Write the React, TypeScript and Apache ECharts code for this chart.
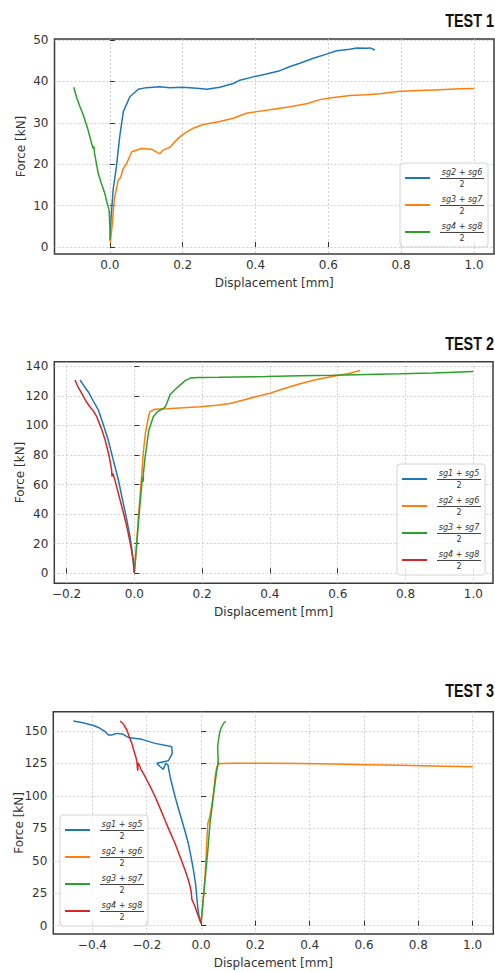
import React, { useEffect, useRef } from 'react';
import * as echarts from 'echarts';

type P = [number, number][];

// ---------- TEST 1 ----------
const test1Sg2Sg6: P = [[0.001,1.5],[0.003,6.5],[0.009,13.8],[0.018,19.4],[0.027,26.6],[0.037,32.7],[0.055,36.3],[0.078,38.1],[0.1,38.5],[0.137,38.7],[0.165,38.5],[0.2,38.6],[0.247,38.3],[0.266,38.1],[0.302,38.6],[0.339,39.5],[0.357,40.3],[0.394,41.1],[0.43,41.8],[0.467,42.6],[0.495,43.6],[0.522,44.4],[0.559,45.6],[0.595,46.6],[0.623,47.4],[0.659,47.8],[0.678,48.1],[0.705,48],[0.715,48.1],[0.728,47.6]];
const test1Sg3Sg7: P = [[0.001,1],[0.006,4.9],[0.012,11.3],[0.023,16.2],[0.03,16.8],[0.035,18.6],[0.046,20.2],[0.06,23],[0.087,23.8],[0.115,23.6],[0.137,22.5],[0.146,23.4],[0.165,24.1],[0.188,26.3],[0.206,27.5],[0.229,28.7],[0.256,29.6],[0.302,30.3],[0.339,31.1],[0.375,32.3],[0.403,32.7],[0.449,33.3],[0.495,33.9],[0.54,34.6],[0.577,35.6],[0.604,36],[0.659,36.6],[0.705,36.8],[0.742,37],[0.797,37.6],[0.852,37.8],[0.907,38],[0.962,38.2],[1.0,38.3]];
const test1Sg4Sg8: P = [[-0.099,38.6],[-0.092,36.3],[-0.082,33.9],[-0.073,31.9],[-0.06,28.3],[-0.05,25],[-0.046,23.8],[-0.044,24.3],[-0.042,22.6],[-0.032,17.8],[-0.024,15.5],[-0.014,13],[-0.007,10.5],[-0.002,8.9],[0.0,5],[0.001,1.7]];

// ---------- TEST 2 ----------
const test2Sg1Sg5: P = [[-0.16,130.7],[-0.148,126.5],[-0.136,122.8],[-0.121,116.5],[-0.106,110.4],[-0.092,101],[-0.077,90.1],[-0.062,76.5],[-0.047,63.1],[-0.035,50],[-0.022,36],[-0.012,24],[-0.006,13.5],[0,0.5]];
const test2Sg2Sg6: P = [[0,0.5],[0.006,15],[0.012,38],[0.02,61],[0.027,83],[0.033,95],[0.037,100],[0.042,106],[0.046,109.3],[0.061,110.9],[0.095,111.3],[0.145,112],[0.194,112.6],[0.243,113.6],[0.282,114.8],[0.322,117.2],[0.361,119.6],[0.4,121.7],[0.44,124.8],[0.489,128.2],[0.538,131],[0.587,133.3],[0.636,135.2],[0.666,137.1]];
const test2Sg3Sg7: P = [[0,0.5],[0.007,20.3],[0.017,47.3],[0.024,65.3],[0.026,62],[0.027,68],[0.032,78.8],[0.043,96.9],[0.056,105.9],[0.07,109.5],[0.081,110.9],[0.09,112],[0.096,115],[0.105,120.6],[0.118,123.8],[0.13,126.2],[0.15,130.3],[0.165,132],[0.19,132.4],[0.25,132.5],[0.3,132.7],[0.39,133],[0.489,133.5],[0.587,133.9],[0.686,134.4],[0.784,134.9],[0.882,135.5],[1.0,136.4]];
const test2Sg4Sg8: P = [[-0.175,130.7],[-0.165,125.5],[-0.155,121.7],[-0.143,116.5],[-0.131,112.6],[-0.12,109.5],[-0.111,105.9],[-0.098,98.5],[-0.086,90.1],[-0.075,80],[-0.067,70],[-0.066,65.5],[-0.063,67.5],[-0.056,62],[-0.047,54],[-0.035,43.5],[-0.022,31.5],[-0.011,19],[-0.003,9],[0,0.5]];

// ---------- TEST 3 ----------
const test3Sg1Sg5: P = [[-0.47,157.7],[-0.44,156.5],[-0.402,154.6],[-0.375,152.5],[-0.353,149.5],[-0.341,146.9],[-0.329,146.9],[-0.31,148.2],[-0.29,147.8],[-0.268,145.1],[-0.218,143.6],[-0.169,140.5],[-0.12,138.4],[-0.108,137.9],[-0.106,132.8],[-0.12,127.1],[-0.163,125.1],[-0.15,122.5],[-0.139,120.5],[-0.13,125.1],[-0.122,124],[-0.114,114.8],[-0.1,103],[-0.089,94.3],[-0.071,81.4],[-0.058,72],[-0.047,63.5],[-0.036,52],[-0.028,42.9],[-0.02,32],[-0.016,22.3],[-0.012,14],[-0.008,8],[0,1.8]];
const test3Sg2Sg6: P = [[0,1.8],[0.008,20],[0.015,40],[0.021,63.5],[0.025,78.9],[0.03,82],[0.039,91.7],[0.046,103],[0.052,114.8],[0.058,122.5],[0.065,124.6],[0.076,125],[0.12,125.1],[0.242,125.2],[0.364,125],[0.487,124.6],[0.61,124.1],[0.733,123.6],[0.855,123],[1.0,122.4]];
const test3Sg3Sg7: P = [[0,1.8],[0.009,22.3],[0.017,40.3],[0.025,58.3],[0.033,78.9],[0.045,99.4],[0.058,120],[0.06,122],[0.065,126.5],[0.062,123.5],[0.063,128],[0.061,137.9],[0.066,145.6],[0.07,150],[0.076,153.3],[0.083,156],[0.091,157.5]];
const test3Sg4Sg8: P = [[-0.298,157.7],[-0.285,155],[-0.273,150.8],[-0.264,145.5],[-0.255,140.5],[-0.246,134],[-0.237,127.7],[-0.234,121],[-0.233,119.5],[-0.232,124],[-0.231,125.6],[-0.22,120],[-0.206,114.8],[-0.188,107.5],[-0.169,99.4],[-0.15,90],[-0.133,81.4],[-0.115,72.5],[-0.096,63.5],[-0.078,53.5],[-0.059,42.9],[-0.047,35.5],[-0.04,30],[-0.036,26],[-0.034,20.5],[-0.028,17.5],[-0.022,14.6],[-0.012,8.5],[0,1.8]];

// ---------- ticks ----------
const xTicks1 = [0, 0.2, 0.4, 0.6, 0.8, 1.0];
const yTicks1 = [0, 10, 20, 30, 40, 50];
const xTicks2 = [-0.2, 0, 0.2, 0.4, 0.6, 0.8, 1.0];
const yTicks2 = [0, 20, 40, 60, 80, 100, 120, 140];
const xTicks3 = [-0.4, -0.2, 0, 0.2, 0.4, 0.6, 0.8, 1.0];
const yTicks3 = [0, 25, 50, 75, 100, 125, 150];

const titles = ['TEST 1', 'TEST 2', 'TEST 3'];
const xName = 'Displacement [mm]';
const yName = 'Force [kN]';

const COLORS = { blue: '#1f77b4', orange: '#ff7f0e', green: '#2ca02c', red: '#d62728' };
const FONT = "'DejaVu Sans', sans-serif";

const fmtX = (v: number) => (v < -1e-9 ? '\u2212' : '') + Math.abs(v).toFixed(1);
const fmtY = (v: number) => String(Math.round(v));

function makeX(gridIndex: number, min: number, max: number, ticks: number[]) {
  return {
    type: 'value', gridIndex, min, max,
    axisLine: { show: false },
    axisTick: { show: true, inside: true, length: 5, customValues: ticks, lineStyle: { color: '#333', width: 1 } },
    axisLabel: { customValues: ticks, formatter: fmtX, color: '#333', fontSize: 12, fontFamily: FONT, margin: 5 },
    splitLine: { show: true, lineStyle: { color: '#c4c4c4', type: [2, 2], width: 0.8 } },
    name: xName, nameLocation: 'middle', nameGap: 23,
    nameTextStyle: { color: '#333', fontSize: 12, fontFamily: FONT },
  };
}
function makeY(gridIndex: number, min: number, max: number, ticks: number[]) {
  return {
    type: 'value', gridIndex, min, max,
    axisLine: { show: false },
    axisTick: { show: true, inside: true, length: 5, customValues: ticks, lineStyle: { color: '#333', width: 1 } },
    axisLabel: { customValues: ticks, formatter: fmtY, color: '#333', fontSize: 12, fontFamily: FONT, margin: 6 },
    splitLine: { show: true, lineStyle: { color: '#c4c4c4', type: [2, 2], width: 0.8 } },
    name: yName, nameLocation: 'middle', nameGap: 28, nameRotate: 90, nameMoveOverlap: false,
    nameTextStyle: { color: '#333', fontSize: 12, fontFamily: FONT },
  };
}

function line(name: string, data: P, color: string, idx: number) {
  return {
    type: 'line', name, data, xAxisIndex: idx, yAxisIndex: idx,
    showSymbol: false, symbol: 'none', color,
    lineStyle: { color, width: 1.5 },
    emphasis: { disabled: true },
  };
}

const rich = {
  s: { width: 5, fontSize: 1, lineHeight: 1 },
  n: { width: 44, align: 'center', fontSize: 8, fontStyle: 'italic', fontFamily: FONT, color: '#333', lineHeight: 10 },
  b: { width: 44, height: 1, fontSize: 1, lineHeight: 3, backgroundColor: '#444' },
  d: { width: 44, align: 'center', fontSize: 8, fontFamily: FONT, color: '#333', lineHeight: 9 },
};
const legendFmt = (name: string) => {
  const label = name.split('|')[1];
  return `{s| }{n|${label}}\n{s| }{b| }\n{s| }{d|2}`;
};
function makeLegend(data: string[], left: number, top: number) {
  return {
    data, orient: 'vertical', left, top, padding: [4, 4, 4, 5],
    itemWidth: 25, itemHeight: 2, itemGap: 5, icon: 'rect',
    backgroundColor: 'rgba(255,255,255,0.85)', borderColor: '#d4d4d4', borderWidth: 1, borderRadius: 3,
    formatter: legendFmt, selectedMode: false,
    textStyle: { rich, fontSize: 8, lineHeight: 10 },
  };
}

function titleText(text: string, y: number) {
  return {
    type: 'text', x: 494, y, scaleX: 0.8, silent: true,
    style: {
      text, textAlign: 'right', textVerticalAlign: 'middle',
      fontFamily: "'Liberation Sans', Arial, sans-serif", fontWeight: 'bold', fontSize: 18, fill: '#111',
    },
  };
}

export default function App() {
  const ref = useRef<HTMLDivElement>(null);
  useEffect(() => {
    if (!ref.current) return;
    const chart = echarts.init(ref.current, undefined, { renderer: 'svg' });
    const n1 = ['1|sg2 + sg6', '1|sg3 + sg7', '1|sg4 + sg8'];
    const n2 = ['2|sg1 + sg5', '2|sg2 + sg6', '2|sg3 + sg7', '2|sg4 + sg8'];
    const n3 = ['3|sg1 + sg5', '3|sg2 + sg6', '3|sg3 + sg7', '3|sg4 + sg8'];
    chart.setOption({
      animation: false,
      backgroundColor: '#fff',
      graphic: [titleText(titles[0], 20), titleText(titles[1], 343), titleText(titles[2], 690)],
      grid: [
        { left: 54.5, top: 39, width: 439.5, height: 215, show: true, borderColor: '#3a3a3a', borderWidth: 1.5, backgroundColor: 'transparent' },
        { left: 54.3, top: 361.7, width: 438.7, height: 221.6, show: true, borderColor: '#3a3a3a', borderWidth: 1.5, backgroundColor: 'transparent' },
        { left: 53.3, top: 711.7, width: 440, height: 222.3, show: true, borderColor: '#3a3a3a', borderWidth: 1.5, backgroundColor: 'transparent' },
      ],
      xAxis: [
        makeX(0, -0.152, 1.055, xTicks1),
        makeX(1, -0.236, 1.058, xTicks2),
        makeX(2, -0.544, 1.076, xTicks3),
      ],
      yAxis: [
        makeY(0, -1.7, 50.25, yTicks1),
        makeY(1, -6.76, 143.07, yTicks2),
        makeY(2, -6.39, 164.9, yTicks3),
      ],
      legend: [
        makeLegend(n1, 400, 163),
        makeLegend(n2, 397, 464),
        makeLegend(n3, 60, 815),
      ],
      series: [
        line(n1[0], test1Sg2Sg6, COLORS.blue, 0),
        line(n1[1], test1Sg3Sg7, COLORS.orange, 0),
        line(n1[2], test1Sg4Sg8, COLORS.green, 0),
        line(n2[0], test2Sg1Sg5, COLORS.blue, 1),
        line(n2[1], test2Sg2Sg6, COLORS.orange, 1),
        line(n2[2], test2Sg3Sg7, COLORS.green, 1),
        line(n2[3], test2Sg4Sg8, COLORS.red, 1),
        line(n3[0], test3Sg1Sg5, COLORS.blue, 2),
        line(n3[1], test3Sg2Sg6, COLORS.orange, 2),
        line(n3[2], test3Sg3Sg7, COLORS.green, 2),
        line(n3[3], test3Sg4Sg8, COLORS.red, 2),
      ],
    });
    return () => chart.dispose();
  }, []);
  return <div ref={ref} style={{ position: 'absolute', left: 0, top: 0, width: 495, height: 972, background: '#fff' }} />;
}
